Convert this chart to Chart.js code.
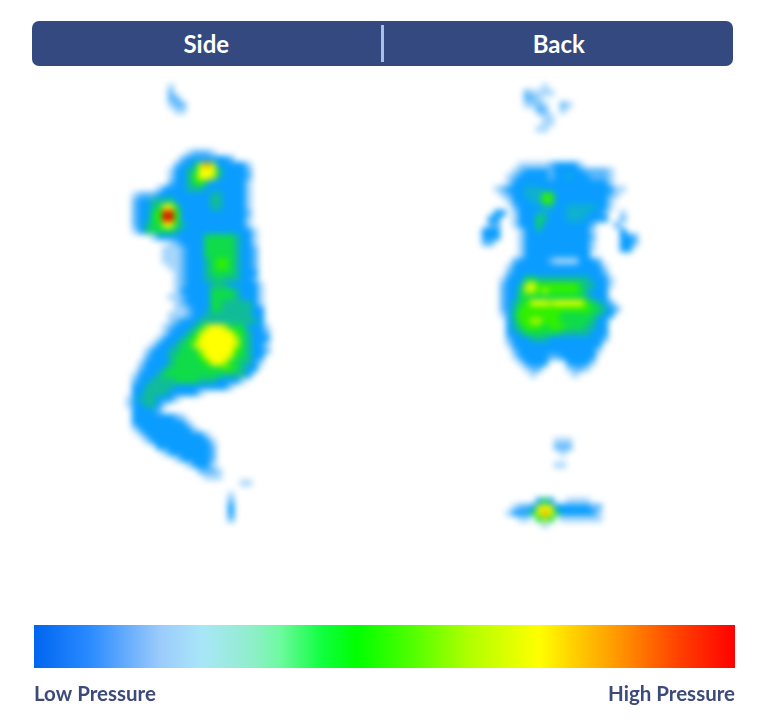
<!DOCTYPE html>
<html>
<head>
<meta charset="utf-8">
<title>Pressure map</title>
<script src="https://cdn.jsdelivr.net/npm/chart.js@4"></script>
<style>
    html, body { margin: 0; padding: 0; background: #fff; }
    body { position: relative; width: 768px; height: 727px; overflow: hidden; font-family: Lato, sans-serif; }
    #header {
        position: absolute; left: 32px; top: 21px; width: 701px; height: 45px;
        background: #34497f; border-radius: 7px; color: #fff;
        display: flex; font-size: 24px; font-weight: 700; line-height: 45px; text-align: center;
    }
    #header div { flex: 1; }
    #header div:first-child { padding-right: 4px; }
    #header i { position: absolute; left: 349px; top: 4px; width: 3px; height: 37px; background: #a9c0e8; }
    #heatWrap { position: absolute; left: 0; top: 0; width: 768px; height: 610px; }
    #heat { filter: blur(3px); }
    #scaleWrap { position: absolute; left: 34px; top: 625px; width: 701px; height: 82px; }
</style>
</head>
<body>
<div id="heatWrap"><canvas id="heat"></canvas></div>
<div id="header"><div>Side</div><i></i><div>Back</div></div>
<div id="scaleWrap"><canvas id="scale"></canvas></div>

<script>
// pressure level per cell: . none, then 1,2,3,t,4..9,a = low to high
const sideRows = [
    "........1",
    "........2",
    "........22",
    "........122",
    ".........11",
    "",
    "",
    "",
    "",
    "",
    "",
    "...........12221",
    "..........233333332",
    ".........233479733333" + "1",
    "........13345888533332",
    "........13346887433332",
    "........23345643333331",
    "......1333344433333331",
    "..1222333333333443333" + "1",
    "..2334445333333443333" + "1",
    "..2334" + "5885" + "33333" + "443333" + "1",
    "..2335" + "6aa6" + "33333333333" + "2",
    "..2335" + "6aa6" + "33333333333" + "1",
    "..2345" + "5885" + "43333333333" + "1",
    "..1345" + "5554" + "333333333333" + "1",
    ".....1" + "33333333" + "555554" + "33" + "1",
    "........12" + "3333" + "555554" + "33" + "1",
    ".......1112" + "333" + "555554" + "33" + "2",
    ".......1112" + "333" + "555554" + "33" + "2",
    ".......1112" + "333" + "456654" + "33" + "2",
    "........112" + "333" + "456654" + "33" + "2",
    ".........12" + "333" + "455554" + "33" + "3",
    ".........12" + "333" + "445444" + "33" + "2",
    ".........12" + "3333" + "444" + "33333" + "1",
    ".........13" + "3333" + "5555" + "4" + "333" + "1",
    "........112" + "3333" + "5555" + "4" + "333" + "1",
    ".........12" + "3333" + "55" + "44444" + "3" + "1",
    ".........112" + "333" + "55" + "44444" + "33",
    "........1112" + "33" + "44444444" + "33",
    "........12" + "333" + "4444444444" + "3",
    ".......12" + "333" + "45" + "7887" + "555" + "333" + "1",
    ".......1" + "333" + "457" + "88888" + "654" + "33" + "2",
    "......1" + "333" + "456" + "888888" + "754" + "333",
    ".....1" + "333" + "4557" + "888888" + "754" + "33" + "1",
    "....1" + "333" + "445557" + "88888" + "654" + "33" + "2",
    "....2" + "333" + "455556" + "8888" + "7554" + "33",
    "...1" + "3333" + "4555556" + "88" + "75544" + "3" + "1",
    "...2" + "333" + "45" + "55555555" + "66" + "54" + "33",
    "..1" + "333" + "455" + "5555555" + "54444" + "3",
    "..2" + "33" + "44445555" + "4443333" + "1",
    "..33" + "44444" + "333333333" + "1",
    "..33" + "4444" + "33333" + "1",
    ".13" + "444" + "333" + "1",
    ".13" + "344" + "3" + "1",
    "..3" + "333" + "2",
    "..3333333" + "21",
    "..333333333" + "1",
    "..1" + "333333333" + "1",
    "...1" + "3333333333" + "1",
    "....1" + "3333333333" + "1",
    "......333333333" + "2",
    ".......1" + "3333333" + "2",
    ".........1" + "33333" + "2",
    "...........1" + "333" + "1",
    ".............2221",
    "..............111",
    "....................11",
    "",
    "..................1",
    "..................2",
    "..................3",
    "..................3",
    "..................2"
];

const backRows = [
    "............1",
    ".........21111",
    ".........221",
    ".........1121..21",
    "...........22..1",
    "............11",
    "............11",
    "...........11",
    "",
    "",
    "",
    "",
    "",
    "........1111123333" + "1",
    ".......12333" + "3233333" + "2222" + "1",
    "......1233333" + "233" + "t" + "333" + "222" + "1",
    "......1" + "3333333333333333" + "1",
    "....12" + "333" + "ttt" + "333333333333" + "11",
    ".....12" + "33" + "ttt" + "66" + "333333333" + "21",
    "......1" + "333tt" + "66" + "333333333" + "1",
    ".......2" + "3333" + "tt" + "33" + "ttttt" + "33" + "1",
    "....33.1" + "333" + "tt" + "333" + "tttt" + "33" + "2..1",
    "...33..1" + "333" + "54" + "333" + "ttt333" + "3.." + "2",
    "...22..1" + "333" + "5" + "33333333" + "2" + "...2",
    "..333...1" + "33" + "t" + "33333333" + "1" + "....3",
    "..333...1" + "33" + "3" + "33333333" + "2" + "....332",
    "..22....1" + "33333333333" + "1" + "....332",
    "........1" + "33333333333" + "1" + "....33",
    "........1" + "33333333333",
    ".......2" + "33333" + "2" + "1111" + "333" + "2",
    "......1" + "333333333333333" + "1",
    "......2" + "333333333333333" + "2",
    ".....1" + "333" + "55444444444" + "333" + "1",
    ".....2" + "33" + "4" + "78" + "6666666" + "5" + "44" + "33" + "1",
    ".....2" + "33" + "5" + "77" + "676" + "6666" + "5" + "4" + "333",
    ".....2" + "33" + "5" + "555555555" + "5" + "4" + "333",
    ".....2" + "3" + "4" + "56" + "88" + "878" + "8888" + "65" + "4" + "3" + "2",
    ".....2" + "3" + "4" + "66666666666" + "655" + "4" + "3" + "2",
    ".....1" + "3" + "5" + "666" + "6666555555" + "4" + "33",
    "......3" + "4" + "66776" + "6655555" + "4" + "33",
    "......3" + "4" + "5" + "666" + "56665" + "55" + "44" + "33",
    "......33" + "4" + "555" + "55544444" + "333",
    "......2" + "333" + "444" + "333333333" + "2",
    "......1" + "333333333333333",
    ".......2" + "3333333333333" + "1",
    ".......1" + "33333" + "22" + "333333",
    "........1" + "3333" + "..." + "3333" + "1",
    ".........1" + "22" + "...." + "1" + "22" + "1",
    "..........1......1",
    "",
    "",
    "",
    "",
    "",
    "",
    "",
    "",
    "",
    "",
    "..............111",
    "..............222",
    "...............1",
    "",
    "..............11",
    "",
    "",
    "",
    "",
    "",
    "...........353..1111",
    ".......1223" + "787" + "3333" + "33" + "22",
    "......1333" + "5" + "898" + "5333333" + "1",
    "........11.575.1111111",
    "............1"
];

const levelColors = {
    "1": "#a6d6fb", "2": "#58b6fb", "3": "#0a9dff", "t": "#0fb0d0", "4": "#10bc98", "5": "#0fdc48",
    "6": "#30f000", "7": "#c0f800", "8": "#ffff00", "9": "#ff9800", "a": "#e01000"
};

const scaleStops = [0, 0.08, 0.18, 0.24, 0.31, 0.35, 0.41, 0.46, 0.54, 0.62, 0.72, 0.77, 0.84, 0.92, 1];
const scaleColors = ["#0065f0", "#2a8bff", "#9ccbfb", "#a8e6f8", "#90eecb", "#6ffaa0", "#10ff40", "#00ff00",
    "#50ff00", "#b0ff00", "#ffff00", "#ffd000", "#ff9000", "#ff4000", "#ff0000"];
const scaleLabels = ["Low Pressure", "High Pressure"];

const CELL = 6;
const TOP = 84;

// ---------- HEATMAP ----------
function addCells(points, rows, left) {
    rows.forEach((row, r) => {
        [...row].forEach((ch, c) => {
            if (ch === ".") return;
            points[ch].push({ x: left + c * CELL + CELL / 2, y: TOP + r * CELL + CELL / 2 });
        });
    });
}

const points = {};
Object.keys(levelColors).forEach(k => points[k] = []);
addCells(points, sideRows, 120);
addCells(points, backRows, 470);

new Chart(document.getElementById("heat"), {
    type: "scatter",
    data: {
        datasets: Object.keys(levelColors).map(k => ({
            label: k,
            data: points[k],
            pointStyle: "rect",
            pointRadius: 4.6,
            borderWidth: 0,
            backgroundColor: levelColors[k]
        }))
    },
    options: {
        responsive: true,
        maintainAspectRatio: false,
        animation: false,
        events: [],
        layout: { padding: 0, autoPadding: false },
        plugins: { legend: { display: false }, tooltip: { enabled: false } },
        scales: {
            x: { display: false, min: 0, max: 768 },
            y: { display: false, min: 0, max: 610, reverse: true }
        }
    }
});

// ---------- COLOUR SCALE ----------
function scaleGradient(ctx) {
    const area = ctx.chart.chartArea;
    if (!area) return scaleColors[0];
    const g = ctx.chart.ctx.createLinearGradient(area.left, 0, area.right, 0);
    scaleStops.forEach((s, i) => g.addColorStop(s, scaleColors[i]));
    return g;
}

new Chart(document.getElementById("scale"), {
    type: "bar",
    data: {
        labels: ["Pressure"],
        datasets: [{ data: [100], backgroundColor: scaleGradient, barPercentage: 1, categoryPercentage: 1 }]
    },
    options: {
        indexAxis: "y",
        responsive: true,
        maintainAspectRatio: false,
        animation: false,
        events: [],
        layout: { padding: 0, autoPadding: false },
        plugins: { legend: { display: false }, tooltip: { enabled: false } },
        scales: {
            y: { display: false },
            x: {
                min: 0,
                max: 100,
                afterFit: s => { s.height = 39; s.paddingLeft = 0; s.paddingRight = 0; },
                grid: { display: false, drawTicks: false },
                border: { display: false },
                ticks: {
                    stepSize: 100,
                    align: "inner",
                    maxRotation: 0,
                    padding: 14,
                    color: "#3d4b7a",
                    font: { family: "Lato", size: 20.5, weight: "bold" },
                    callback: v => (v === 0 ? scaleLabels[0] : scaleLabels[1])
                }
            }
        }
    }
});
</script>
</body>
</html>
